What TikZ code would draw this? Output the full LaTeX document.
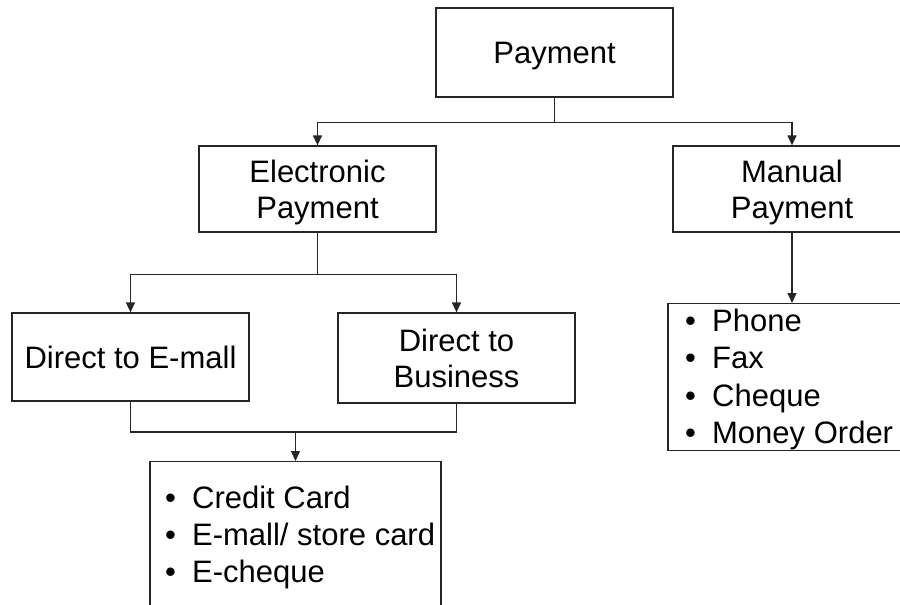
\documentclass[tikz,border=0pt]{standalone}
\usepackage{fontspec}
\setmainfont{Liberation Sans}
\usetikzlibrary{arrows.meta}

\tikzset{
  box/.style={draw=black!85, line width=1.3pt, align=center, inner sep=0pt,
              text depth=0pt, minimum width=237pt, font=\fontsize{31}{36}\selectfont},
  listbox/.style={draw=black!85, line width=1.3pt, inner sep=0pt},
  item/.style={inner sep=0pt, font=\fontsize{31}{36}\selectfont},
  link/.style={draw=black!85, line width=1.3pt},
  arr/.style={link, -{Triangle[width=9pt,length=10pt]}}
}

\newcommand{\bullitem}[1]{\makebox[27pt][l]{\textbullet}#1}

\begin{document}
\begin{tikzpicture}[x=1pt, y=-1pt]

  \useasboundingbox (0,0) rectangle (900,605);
  \clip (0,0) rectangle (900,605);

  % top box
  \node[box, minimum height=89pt] (pay) at (554.5,52.5) {Payment};

  % second row
  \node[box, minimum height=86pt] (elec) at (317.5,189) {Electronic\\Payment};
  \node[box, minimum width=238pt, minimum height=86pt] (manual) at (792,189) {Manual\\Payment};

  % third row
  \node[box, minimum height=88pt] (email) at (130.5,357) {Direct to E-mall};
  \node[box, minimum height=90pt] (business) at (456.5,358) {Direct to\\Business};

  % list boxes
  \node[listbox, minimum width=291pt, minimum height=180pt, anchor=north] (cards) at (295.5,461) {};
  \node[listbox, minimum width=248pt, minimum height=147pt, anchor=north] (manlist) at (792,303) {};

  % list items
  \foreach \txt [count=\i] in {Credit Card, E-mall/ store card, E-cheque}
    \node[item, anchor=base west] (card\i) at (165,{471+37*\i}) {\bullitem{\txt}};
  \foreach \txt [count=\i] in {Phone, Fax, Cheque, Money Order}
    \node[item, anchor=base west] (man\i) at (685,{293.5+37.5*\i}) {\bullitem{\txt}};

  % payment split
  \draw[link] (pay.south) -- ++(0,25) coordinate (split);
  \draw[arr] (split) -| (elec.north);
  \draw[arr] (split) -| (manual.north);

  % electronic split
  \draw[link] (elec.south) -- ++(0,42) coordinate (esplit);
  \draw[arr] (esplit) -| (email.north);
  \draw[arr] (esplit) -| (business.north);

  % both routes join
  \coordinate (merge) at (295.5,432);
  \draw[link] (email.south) |- (merge) -| (business.south);
  \draw[arr] (merge) -- (cards.north);

  % manual methods
  \draw[arr] (manual.south) -- (manlist.north);

\end{tikzpicture}
\end{document}
